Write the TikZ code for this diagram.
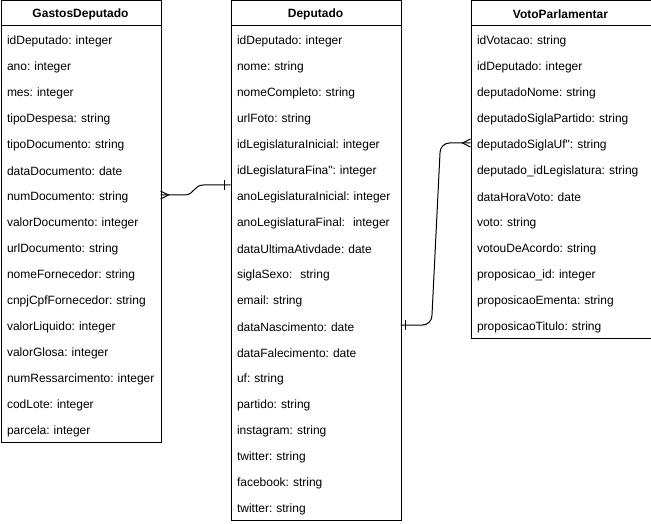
\documentclass[tikz,border=0pt]{standalone}
\usepackage{fontspec}
\setmainfont{Liberation Sans}
\usetikzlibrary{calc}
\begin{document}
\frenchspacing
\begin{tikzpicture}[x=1pt,y=-1pt,line width=1pt,
  tbox/.style={draw,anchor=north west,inner sep=0pt},
  hdr/.style={font=\bfseries\fontsize{12}{14}\selectfont,inner sep=0pt},
  row/.style={anchor=west,inner xsep=6pt,inner ysep=0pt,minimum height=26pt,text width=#1,align=left,font=\fontsize{12}{14}\selectfont\frenchspacing},
  conn/.style={draw,line width=1pt}]
\useasboundingbox (0,0) rectangle (651,524);
% GastosDeputado
\node[tbox,minimum width=160pt,minimum height=441.5pt] (gbox) at (0.5,0.5) {};
\draw (0.5,26) -- (160.5,26);
\node[hdr] (gh) at (80.5,14.5) {GastosDeputado};
\foreach \t [count=\i from 0] in {idDeputado: integer,ano: integer,mes: integer,tipoDespesa: string,tipoDocumento: string,dataDocumento: date,numDocumento: string,valorDocumento: integer,urlDocumento: string,nomeFornecedor: string,cnpjCpfFornecedor: string,valorLiquido: integer,valorGlosa: integer,numRessarcimento: integer,codLote: integer,parcela: integer}
  \node[row=148pt] (g\i) at (0.5,{41+26*\i}) {\mbox{\t}};
% Deputado
\node[tbox,minimum width=170pt,minimum height=519.5pt] (dbox) at (230.5,0.5) {};
\draw (230.5,26) -- (400.5,26);
\node[hdr] (dh) at (315.5,14.5) {Deputado};
\foreach \t [count=\i from 0] in {idDeputado: integer,nome: string,nomeCompleto: string,urlFoto: string,idLegislaturaInicial: integer,idLegislaturaFina\textquotedbl: integer,anoLegislaturaInicial: integer,anoLegislaturaFinal:\ \ integer,dataUltimaAtivdade: date,siglaSexo:\ \ string,email: string,dataNascimento: date,dataFalecimento: date,uf: string,partido: string,instagram: string,twitter: string,facebook: string,twitter: string}
  \node[row=158pt] (d\i) at (230.5,{41+26*\i}) {\mbox{\t}};
% VotoParlamentar
\node[tbox,minimum width=180pt,minimum height=337.5pt] (vbox) at (470.5,0.5) {};
\draw (470.5,26) -- (650.5,26);
\node[hdr] (vh) at (560.5,14.5) {VotoParlamentar};
\foreach \t [count=\i from 0] in {idVotacao: string,idDeputado: integer,deputadoNome: string,deputadoSiglaPartido: string,deputadoSiglaUf\textquotedbl: string,deputado\_idLegislatura: string,dataHoraVoto: date,voto: string,votouDeAcordo: string,proposicao\_id: integer,proposicaoEmenta: string,proposicaoTitulo: string}
  \node[row=168pt] (v\i) at (470.5,{41+26*\i}) {\mbox{\t}};
% connector 1
\coordinate (gout) at (160.5,195);
\coordinate (din) at (230.5,185);
\draw[conn] (gout) -- ++(24,0) .. controls ++(10,0) and ($(din)+(-37,0)$) .. ($(din)+(-27,0)$) -- (din);
\draw[conn] ($(gout)+(0,-4)$) -- ($(gout)+(8,0)$) -- ($(gout)+(0,4)$);
\draw[conn] ($(din)+(-6,-5)$) -- ($(din)+(-6,5)$);
% connector 2
\coordinate (dout) at (400.5,325);
\coordinate (vin) at (470.5,143);
\draw[conn,rounded corners=9pt] (dout) -- ($(dout)+(31,0)$) -- ($(vin)+(-30,0)$) -- (vin);
\draw[conn] ($(dout)+(5,-5)$) -- ($(dout)+(5,5)$);
\draw[conn] ($(vin)+(0,-4)$) -- ($(vin)+(-8,0)$) -- ($(vin)+(0,4)$);
\end{tikzpicture}
\end{document}
